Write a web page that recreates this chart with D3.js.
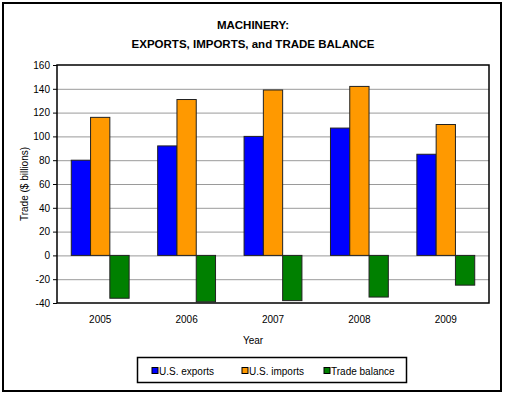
<!DOCTYPE html>
<html>
<head>
  <meta charset="utf-8">
  <style>
    body { margin: 0; background: #fff; }
    text { font-family: "Liberation Sans", Arial, sans-serif; }
  </style>
  <script src="https://cdn.jsdelivr.net/npm/d3@7"></script>
</head>
<body>
<script>
  // Chart data
  const years = ["2005", "2006", "2007", "2008", "2009"];
  const exportsData = [80, 92, 100, 107, 85];
  const importsData = [116, 131, 139, 142, 110];
  const balanceData = [-36, -39, -38, -35, -25];
  const seriesNames = ["U.S. exports", "U.S. imports", "Trade balance"];
  const seriesColors = ["#0000ff", "#ff9900", "#008000"];
  const yTicks = [-40, -20, 0, 20, 40, 60, 80, 100, 120, 140, 160];

  const width = 506, height = 398;
  const plot = {left: 57, top: 65, right: 489, bottom: 303};

  const svg = d3.select("body").append("svg")
      .attr("width", width)
      .attr("height", height);

  // outer frame
  svg.append("rect")
      .attr("x", 3).attr("y", 3)
      .attr("width", 498).attr("height", 388)
      .attr("fill", "#fff")
      .attr("stroke", "#000")
      .attr("stroke-width", 2);

  // title
  const title = svg.append("text")
      .attr("text-anchor", "middle")
      .style("font-size", "11.5px")
      .style("font-weight", "bold");
  title.append("tspan").attr("x", 253).attr("y", 29).text("MACHINERY:");
  title.append("tspan").attr("x", 253).attr("y", 48).text("EXPORTS, IMPORTS, and TRADE BALANCE");

  // scales
  const x = d3.scaleBand().domain(years).range([plot.left, plot.right]);
  const x1 = d3.scaleBand().domain(seriesNames).range([0, x.bandwidth()]).paddingInner(0).paddingOuter(0.74);
  const y = d3.scaleLinear().domain([-40, 160]).range([plot.bottom, plot.top]);

  // gridlines
  svg.append("g").selectAll("line")
      .data(yTicks.slice(1, -1))
      .enter().append("line")
        .attr("x1", plot.left).attr("x2", plot.right)
        .attr("y1", d => y(d) + 0.5).attr("y2", d => y(d) + 0.5)
        .attr("stroke", "#9a9a9a")
        .attr("stroke-width", 1);

  // bars
  const rows = years.map((yr, i) => ({
    year: yr,
    values: [exportsData[i], importsData[i], balanceData[i]]
  }));

  const groups = svg.append("g").selectAll("g")
      .data(rows)
      .enter().append("g")
        .attr("transform", d => "translate(" + x(d.year) + ",0)");

  groups.selectAll("rect")
      .data(d => d.values.map((v, j) => ({name: seriesNames[j], value: v, color: seriesColors[j]})))
      .enter().append("rect")
        .attr("x", d => x1(d.name))
        .attr("width", x1.bandwidth())
        .attr("y", d => y(Math.max(0, d.value)))
        .attr("height", d => Math.abs(y(d.value) - y(0)))
        .attr("fill", d => d.color)
        .attr("stroke", "#222")
        .attr("stroke-width", 1);

  // plot frame
  svg.append("rect")
      .attr("x", plot.left).attr("y", plot.top)
      .attr("width", plot.right - plot.left).attr("height", plot.bottom - plot.top)
      .attr("fill", "none")
      .attr("stroke", "#000")
      .attr("stroke-width", 1.5);

  // y axis
  const yAxis = svg.append("g")
      .attr("transform", "translate(" + plot.left + ",0)")
      .call(d3.axisLeft(y).tickValues(yTicks).tickSize(4).tickPadding(3).tickFormat(d => String(d)));
  yAxis.select(".domain").remove();
  yAxis.selectAll("text").style("font-size", "10px").attr("fill", "#000");

  // x axis labels
  const xAxis = svg.append("g")
      .attr("transform", "translate(0," + plot.bottom + ")")
      .call(d3.axisBottom(x).tickSize(0).tickPadding(13));
  xAxis.select(".domain").remove();
  xAxis.selectAll("text").style("font-size", "10px").attr("fill", "#000");

  // axis titles
  svg.append("text")
      .attr("x", 253).attr("y", 344)
      .attr("text-anchor", "middle")
      .style("font-size", "10px")
      .text("Year");

  svg.append("text")
      .attr("transform", "translate(28," + ((plot.top + plot.bottom) / 2) + ") rotate(-90)")
      .attr("text-anchor", "middle")
      .style("font-size", "10px")
      .text("Trade ($ billions)");

  // legend
  const legend = svg.append("g");
  legend.append("rect")
      .attr("x", 137.5).attr("y", 357.5)
      .attr("width", 269).attr("height", 25)
      .attr("fill", "#fff")
      .attr("stroke", "#000")
      .attr("stroke-width", 1.5);

  const legendX = [152, 242, 324];
  const items = legend.selectAll("g.item")
      .data(seriesNames)
      .enter().append("g")
        .attr("class", "item")
        .attr("transform", (d, i) => "translate(" + legendX[i] + ",367.5)");
  items.append("rect")
      .attr("width", 6).attr("height", 6)
      .attr("fill", (d, i) => seriesColors[i])
      .attr("stroke", "#000")
      .attr("stroke-width", 1);
  items.append("text")
      .attr("x", 7).attr("y", 7)
      .style("font-size", "10px")
      .text(d => d);
</script>
</body>
</html>
